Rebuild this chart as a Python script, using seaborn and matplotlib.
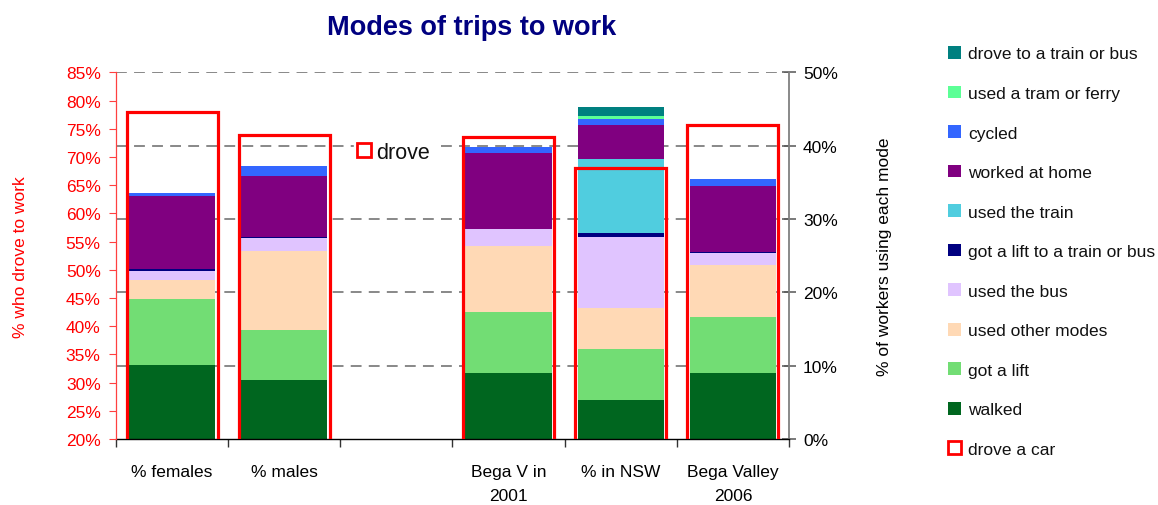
import matplotlib
matplotlib.use("Agg")
import matplotlib.pyplot as plt
from matplotlib.patches import Patch
from matplotlib.ticker import FixedLocator, PercentFormatter
import numpy as np
import seaborn as sns

# ---- data -------------------------------------------------------------
categories = ["% females", "% males", "", "Bega V in\n2001", "% in NSW", "Bega Valley\n2006"]

# share of workers using each mode (right axis, %)
walked = [10.1, 8.05, 0, 9.0, 5.3, 9.0]
got_a_lift = [9.0, 6.8, 0, 8.3, 6.95, 7.65]
used_other_modes = [2.6, 10.8, 0, 9.0, 5.6, 7.1]
used_the_bus = [1.2, 1.8, 0, 2.3, 9.7, 1.55]
lift_to_train_or_bus = [0.3, 0.15, 0, 0.0, 0.55, 0.15]
used_the_train = [0, 0, 0, 0, 10.1, 0]
worked_at_home = [10.0, 8.3, 0, 10.4, 4.65, 9.05]
cycled = [0.4, 1.35, 0, 0.8, 0.8, 0.95]
tram_or_ferry = [0, 0, 0, 0, 0.45, 0]
drove_to_train_or_bus = [0, 0, 0, 0, 1.2, 0]

# share who drove a car (left axis, %); the spacer slot has no value
drove_a_car = [77.9, 73.9, np.nan, 73.5, 68.0, 75.7]

modes = [
    ("walked", walked, "#00661F"),
    ("got a lift", got_a_lift, "#72DD74"),
    ("used other modes", used_other_modes, "#FFD9B5"),
    ("used the bus", used_the_bus, "#E0C4FF"),
    ("got a lift to a train or bus", lift_to_train_or_bus, "#000080"),
    ("used the train", used_the_train, "#50CDDF"),
    ("worked at home", worked_at_home, "#800080"),
    ("cycled", cycled, "#3366FF"),
    ("used a tram or ferry", tram_or_ferry, "#5CFF96"),
    ("drove to a train or bus", drove_to_train_or_bus, "#008080"),
]

mode_ticks = [0, 10, 20, 30, 40, 50]
car_ticks = list(range(20, 86, 5))

# ---- style ------------------------------------------------------------
sns.set_theme(style="white")
plt.rcParams["font.family"] = ["Liberation Sans", "DejaVu Sans"]
FS = 12.5

fig = plt.figure(figsize=(11.58, 5.06), dpi=100)
ax = fig.add_axes([116 / 1158, 1 - 440 / 506, (789 - 116) / 1158, (440 - 73.3) / 506])
ax_car = ax.twinx()

# dashed guide lines for the mode axis (none on the baseline)
for v in mode_ticks[1:]:
    ax.axhline(v, linestyle=(0, (6, 4)), color="#7f7f7f", linewidth=1.3, zorder=0)

# ---- stacked mode bars ------------------------------------------------
base = np.zeros(len(categories))
for name, vals, col in modes:
    sns.barplot(x=categories, y=vals, order=categories, bottom=base.copy(),
                color=col, saturation=1, width=0.77, linewidth=0,
                errorbar=None, ax=ax, zorder=2)
    base += np.asarray(vals, dtype=float)

# ---- outlined "drove a car" bars --------------------------------------
sns.barplot(x=categories, y=drove_a_car, order=categories, fill=False,
            color="#FF0000", saturation=1, width=0.81, linewidth=2.3,
            errorbar=None, ax=ax_car, zorder=3)

# ---- axes -------------------------------------------------------------
for a in (ax, ax_car):
    a.set_xlim(-0.5, len(categories) - 0.5)
    a.set_xlabel("")
    a.grid(False)

ax.set_ylim(0, 50)
ax_car.set_ylim(20, 85)

# right axis: modes
ax.yaxis.tick_right()
ax.yaxis.set_label_position("right")
ax.yaxis.set_major_locator(FixedLocator(mode_ticks))
ax.yaxis.set_major_formatter(PercentFormatter(decimals=0))
ax.tick_params(axis="y", which="major", direction="inout", length=10,
               width=1.1, color="#555555", pad=5, labelsize=FS, labelcolor="black",
               left=False, right=True)
ax.set_ylabel("% of workers using each mode", fontsize=FS, color="black", labelpad=28)

# left axis: drove a car
ax_car.yaxis.tick_left()
ax_car.yaxis.set_label_position("left")
ax_car.yaxis.set_major_locator(FixedLocator(car_ticks))
ax_car.yaxis.set_major_formatter(PercentFormatter(decimals=0))
ax_car.tick_params(axis="y", direction="out", length=5, width=0.8, color="#FF4040",
                   pad=6, labelsize=FS, labelcolor="#FF0000", left=True, right=False)
ax_car.set_ylabel("% who drove to work", fontsize=FS, color="#FF0000", labelpad=27)

# category axis: ticks on slot boundaries, labels in the middle
edges = np.arange(-0.5, len(categories), 1.0)
centers = np.arange(len(categories))
for a in (ax, ax_car):
    a.set_xticks(edges)
    a.set_xticklabels([])
ax_car.tick_params(axis="x", which="both", length=0, labelbottom=False)
ax.tick_params(axis="x", which="major", direction="out", length=6, width=1,
               color="#333333", bottom=True)
ax.set_xticks(centers, minor=True)
ax.set_xticklabels(categories, minor=True, fontsize=FS, color="black", linespacing=1.75)
ax.tick_params(axis="x", which="minor", length=0, pad=18)

# spines
for s in ("top", "left"):
    ax.spines[s].set_visible(False)
ax.spines["right"].set_color("#808080")
ax.spines["right"].set_linewidth(1.3)
ax.spines["bottom"].set_color("black")
ax.spines["bottom"].set_linewidth(1.0)
for s in ("top", "right", "bottom"):
    ax_car.spines[s].set_visible(False)
ax_car.spines["left"].set_visible(True)
ax_car.spines["left"].set_color("#FF4040")
ax_car.spines["left"].set_linewidth(0.9)
ax_car.patch.set_visible(False)

# ---- title ------------------------------------------------------------
fig.text(472 / 1158, 1 - 28 / 506, "Modes of trips to work", ha="center", va="center",
         fontsize=19.5, fontweight="bold", color="#000080")

# ---- inline "drove" key -----------------------------------------------
car_handle = Patch(facecolor="white", edgecolor="#FF0000", linewidth=2)
drove_key = ax_car.legend([car_handle], ["drove"], loc="center left",
                          bbox_to_anchor=(354 / 1158, 1 - 153.5 / 506),
                          bbox_transform=fig.transFigure, fontsize=15.5,
                          frameon=True, framealpha=1, facecolor="white",
                          edgecolor="white", fancybox=False, borderpad=0.15,
                          borderaxespad=0, handlelength=0.62, handleheight=0.62,
                          handletextpad=0.25)
for t in drove_key.get_texts():
    t.set_color("#111111")

# ---- legend -----------------------------------------------------------
handles = [Patch(facecolor=col, edgecolor="none") for _, _, col in modes[::-1]]
labels = [name for name, _, _ in modes[::-1]]
handles.append(Patch(facecolor="white", edgecolor="#FF0000", linewidth=2))
labels.append("drove a car")
leg = fig.legend(handles, labels, loc="upper left",
                 bbox_to_anchor=(948 / 1158, 1 - 47 / 506),
                 frameon=False, fontsize=FS, borderpad=0, borderaxespad=0,
                 handlelength=0.75, handleheight=0.75, handletextpad=0.4,
                 labelspacing=1.39)
for t in leg.get_texts():
    t.set_color("#111111")

fig.savefig("out.png", dpi=100, facecolor="white")
